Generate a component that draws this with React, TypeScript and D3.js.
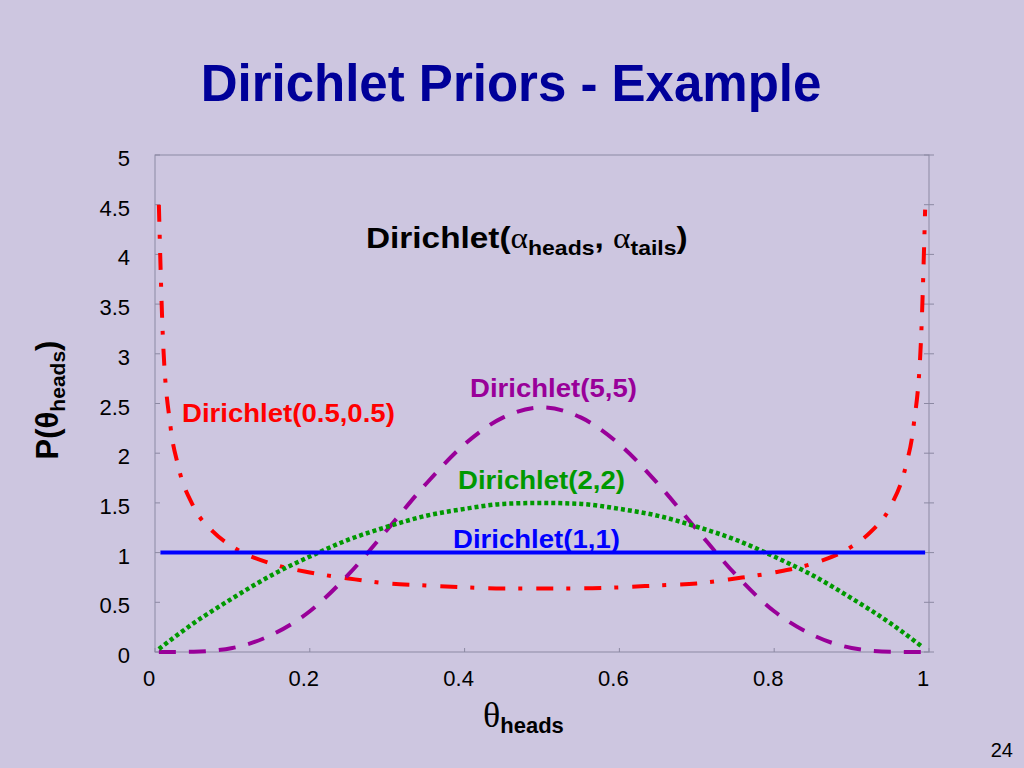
import { line, curveMonotoneX, scaleLinear } from "d3";

// values
const xTicks = [0, 0.2, 0.4, 0.6, 0.8, 1];
const yTicks = [0, 0.5, 1, 1.5, 2, 2.5, 3, 3.5, 4, 4.5, 5];

const thetaHalf = [0.005, 0.01, 0.02, 0.03, 0.05, 0.075, 0.1, 0.15, 0.2, 0.25, 0.3, 0.35, 0.4, 0.45, 0.5, 0.55, 0.6, 0.65, 0.7, 0.75, 0.8, 0.85, 0.9, 0.925, 0.95, 0.97, 0.98, 0.99, 0.995];
const pHalf = [4.5, 3.2, 2.27, 1.87, 1.46, 1.21, 1.06, 0.89, 0.8, 0.74, 0.69, 0.67, 0.65, 0.64, 0.64, 0.64, 0.65, 0.67, 0.69, 0.74, 0.8, 0.89, 1.06, 1.21, 1.46, 1.87, 2.27, 3.2, 4.45];

const thetaFive = [0.005, 0.05, 0.1, 0.15, 0.2, 0.25, 0.3, 0.35, 0.4, 0.45, 0.5, 0.55, 0.6, 0.65, 0.7, 0.75, 0.8, 0.85, 0.9, 0.95, 0.99];
const pFive = [0, 0.003, 0.04, 0.17, 0.41, 0.78, 1.23, 1.69, 2.09, 2.36, 2.46, 2.36, 2.09, 1.69, 1.23, 0.78, 0.41, 0.17, 0.04, 0.003, 0];

const thetaTwo = [0.005, 0.05, 0.1, 0.15, 0.2, 0.25, 0.3, 0.35, 0.4, 0.45, 0.5, 0.55, 0.6, 0.65, 0.7, 0.75, 0.8, 0.85, 0.9, 0.95, 0.99];
const pTwo = [0.03, 0.29, 0.54, 0.77, 0.96, 1.13, 1.26, 1.37, 1.44, 1.49, 1.5, 1.49, 1.44, 1.37, 1.26, 1.13, 0.96, 0.77, 0.54, 0.29, 0.06];

const thetaOne = [0.007, 0.995];
const pOne = [1, 1];

const seriesLabels = ["Dirichlet(0.5,0.5)", "Dirichlet(5,5)", "Dirichlet(2,2)", "Dirichlet(1,1)"];

const SANS = "'Liberation Sans', Arial, Helvetica, sans-serif";
const SERIF = "'Liberation Serif', 'Times New Roman', serif";

const x = scaleLinear().domain([0, 1]).range([155, 929]);
const y = scaleLinear().domain([0, 5]).range([652, 155]);

const path = line<[number, number]>()
  .x((d) => x(d[0]))
  .y((d) => y(d[1]))
  .curve(curveMonotoneX);

const zip = (a: number[], b: number[]) => a.map((v, i) => [v, b[i]] as [number, number]);

function Frame() {
  const [x0, x1] = x.range();
  const [y0, y1] = y.range();
  const grey = "#8c89a3";
  return (
    <g stroke={grey} strokeWidth={1} fill="none">
      <rect x={x0} y={y1} width={x1 - x0} height={y0 - y1} />
      {yTicks.map((t) => (
        <g key={`yt-${t}`}>
          <line x1={x0} x2={x0 + 5} y1={y(t)} y2={y(t)} />
          <line x1={x1 - 5} x2={x1 + 5} y1={y(t)} y2={y(t)} />
        </g>
      ))}
      {xTicks.map((t) => (
        <line key={`xt-${t}`} x1={x(t)} x2={x(t)} y1={y0} y2={y0 - 4} />
      ))}
    </g>
  );
}

function TickLabels() {
  return (
    <g fontFamily={SANS} fontSize={22} fill="#000">
      {yTicks.map((t) => (
        <text key={`yl-${t}`} x={130} y={y(t) + 11} textAnchor="end">
          {t}
        </text>
      ))}
      {xTicks.map((t) => (
        <text key={`xl-${t}`} x={x(t) - 6} y={686} textAnchor="middle">
          {t}
        </text>
      ))}
    </g>
  );
}

export default function App() {
  const curves = [
    { d: zip(thetaHalf, pHalf), color: "#ff0000", dash: "17,13,4,14", width: 4 },
    { d: zip(thetaFive, pFive), color: "#990099", dash: "17,13", width: 4 },
    { d: zip(thetaTwo, pTwo), color: "#009900", dash: "4,3", width: 4.5 },
    { d: zip(thetaOne, pOne), color: "#0000ff", dash: undefined, width: 4 },
  ];
  // label anchors (start x, baseline)
  const labelPos = [
    [182, 422],
    [470, 397],
    [458, 489],
    [453, 548],
  ];

  return (
    <svg
      width={1024}
      height={768}
      style={{ position: "absolute", left: 0, top: 0, display: "block" }}
    >
      <rect width={1024} height={768} fill="#cdc6e0" />

      <text
        x={511}
        y={101}
        textAnchor="middle"
        fontFamily={SANS}
        fontWeight="bold"
        fontSize={51}
        fill="#000099"
      >
        Dirichlet Priors - Example
      </text>

      <Frame />
      <TickLabels />

      {curves.map((c, i) => (
        <path
          key={`curve-${i}`}
          d={path(c.d) ?? ""}
          fill="none"
          stroke={c.color}
          strokeWidth={c.width}
          strokeDasharray={c.dash}
        />
      ))}

      {seriesLabels.map((s, i) => (
        <text
          key={`lab-${i}`}
          transform={`translate(${labelPos[i][0]},${labelPos[i][1]}) scale(1.06,1)`}
          fontFamily={SANS}
          fontWeight="bold"
          fontSize={26}
          fill={curves[i].color}
        >
          {s}
        </text>
      ))}

      <text
        transform="translate(366,248) scale(1.15,1)"
        fontFamily={SANS}
        fontWeight="bold"
        fontSize={29}
        fill="#000"
      >
        Dirichlet(
        <tspan fontFamily={SERIF} fontWeight="normal">α</tspan>
        <tspan fontSize={20} dy={7}>heads</tspan>
        <tspan dy={-7}>, </tspan>
        <tspan fontFamily={SERIF} fontWeight="normal">α</tspan>
        <tspan fontSize={20} dy={7}>tails</tspan>
        <tspan dy={-7}>)</tspan>
      </text>

      <text
        transform="translate(58,400) rotate(-90)"
        textAnchor="middle"
        fontFamily={SANS}
        fontWeight="bold"
        fontSize={31}
        fill="#000"
      >
        P(θ
        <tspan fontSize={21} dy={7}>heads</tspan>
        <tspan dy={-7}>)</tspan>
      </text>

      <text x={483} y={727} fill="#000">
        <tspan fontFamily={SERIF} fontSize={36}>θ</tspan>
        <tspan fontFamily={SANS} fontWeight="bold" fontSize={22} dy={6}>heads</tspan>
      </text>

      <text x={1013} y={757} textAnchor="end" fontFamily={SANS} fontSize={20} fill="#000">
        24
      </text>
    </svg>
  );
}
